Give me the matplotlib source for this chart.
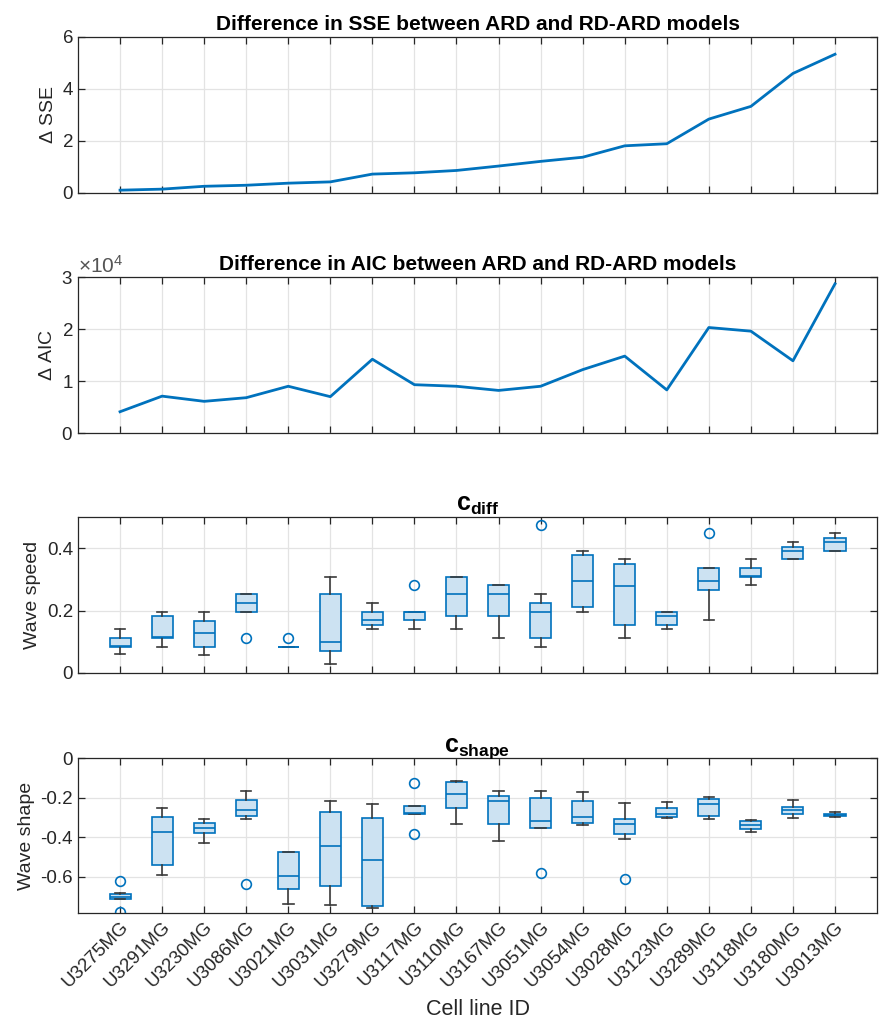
import matplotlib
matplotlib.use("Agg")
import matplotlib.pyplot as plt
import numpy as np
from matplotlib.ticker import ScalarFormatter

plt.rcParams['font.family'] = ['Liberation Sans', 'DejaVu Sans']
plt.rcParams['mathtext.fontset'] = 'custom'
plt.rcParams['mathtext.rm'] = 'Liberation Sans'
plt.rcParams['mathtext.bf'] = 'Liberation Sans:bold'

# cell lines (sorted by delta SSE)
cell_lines = ['U3275MG', 'U3291MG', 'U3230MG', 'U3086MG', 'U3021MG', 'U3031MG',
              'U3279MG', 'U3117MG', 'U3110MG', 'U3167MG', 'U3051MG', 'U3054MG',
              'U3028MG', 'U3123MG', 'U3289MG', 'U3118MG', 'U3180MG', 'U3013MG']

delta_sse = [0.09, 0.13, 0.24, 0.28, 0.36, 0.41, 0.71, 0.76, 0.85, 1.02,
             1.20, 1.36, 1.80, 1.88, 2.83, 3.32, 4.59, 5.33]

delta_aic = [4100, 7100, 6100, 6800, 9000, 7000, 14200, 9300, 9000, 8200,
             9000, 12200, 14800, 8300, 20300, 19600, 13900, 28700]

# c_diff box stats
cdiff_whislo = [0.059, 0.084, 0.056, 0.197, 0.084, 0.028, 0.141, 0.141, 0.141,
                0.113, 0.084, 0.196, 0.113, 0.141, 0.169, 0.281, 0.365, 0.392]
cdiff_q1 = [0.084, 0.113, 0.084, 0.197, 0.084, 0.070, 0.154, 0.169, 0.182,
            0.182, 0.113, 0.210, 0.154, 0.154, 0.267, 0.309, 0.365, 0.392]
cdiff_med = [0.085, 0.114, 0.127, 0.225, 0.084, 0.098, 0.169, 0.196, 0.252,
             0.252, 0.197, 0.295, 0.280, 0.183, 0.295, 0.310, 0.392, 0.420]
cdiff_q3 = [0.111, 0.182, 0.168, 0.252, 0.084, 0.252, 0.197, 0.197, 0.309,
            0.281, 0.224, 0.378, 0.351, 0.197, 0.337, 0.337, 0.406, 0.434]
cdiff_whishi = [0.140, 0.197, 0.197, 0.252, 0.084, 0.309, 0.225, 0.197, 0.309,
                0.281, 0.252, 0.392, 0.365, 0.197, 0.337, 0.365, 0.420, 0.449]
cdiff_fliers = [[], [], [], [0.113], [0.113], [], [], [0.281], [],
                [], [0.477], [], [], [], [0.449], [], [], []]

# c_shape box stats
cshape_whislo = [-0.713, -0.589, -0.428, -0.310, -0.740, -0.742, -0.760, -0.280, -0.332,
                 -0.418, -0.354, -0.339, -0.411, -0.300, -0.305, -0.371, -0.302, -0.299]
cshape_q1 = [-0.713, -0.540, -0.376, -0.290, -0.664, -0.648, -0.747, -0.280, -0.253,
             -0.332, -0.354, -0.326, -0.383, -0.299, -0.292, -0.359, -0.280, -0.290]
cshape_med = [-0.701, -0.374, -0.354, -0.263, -0.597, -0.443, -0.517, -0.279, -0.180,
              -0.218, -0.320, -0.297, -0.334, -0.284, -0.232, -0.339, -0.262, -0.285]
cshape_q3 = [-0.688, -0.297, -0.329, -0.213, -0.475, -0.273, -0.302, -0.242, -0.121,
             -0.191, -0.203, -0.218, -0.310, -0.250, -0.208, -0.319, -0.247, -0.280]
cshape_whishi = [-0.683, -0.253, -0.310, -0.168, -0.475, -0.218, -0.232, -0.242, -0.117,
                 -0.166, -0.168, -0.171, -0.228, -0.220, -0.195, -0.315, -0.213, -0.273]
cshape_fliers = [[-0.621, -0.780], [], [], [-0.636], [], [], [], [-0.126, -0.383], [],
                 [], [-0.581], [], [-0.613], [], [], [], [], []]

blue = '#0072BD'
face = '#CCE2F2'
dark = '#262626'

fig = plt.figure(figsize=(8.82, 10.24), dpi=100)
left, width = 0.0884, 0.906
ax1 = fig.add_axes([left, 0.812, width, 0.152])
ax2 = fig.add_axes([left, 0.5771, width, 0.1523])
ax3 = fig.add_axes([left, 0.3431, width, 0.1516])
ax4 = fig.add_axes([left, 0.1081, width, 0.1514])

x = np.arange(1, len(cell_lines) + 1)


def style(ax):
    ax.set_xlim(0, 19)
    ax.set_xticks(x)
    ax.grid(True, color='#e3e3e3', linewidth=0.9)
    ax.set_axisbelow(True)
    ax.tick_params(direction='in', top=True, right=True, length=5,
                   width=0.9, colors=dark, labelsize=13.5)
    for s in ax.spines.values():
        s.set_color(dark)
        s.set_linewidth(0.9)


ax1.plot(x, delta_sse, color=blue, linewidth=2)
style(ax1)
ax1.set_ylim(0, 6)
ax1.set_yticks([0, 2, 4, 6])
ax1.set_xticklabels([])
ax1.set_ylabel('$\\Delta$ SSE', fontsize=14, color=dark)
ax1.set_title('Difference in SSE between ARD and RD-ARD models',
              fontsize=15, fontweight='bold', pad=5)

ax2.plot(x, delta_aic, color=blue, linewidth=2)
style(ax2)
ax2.set_ylim(0, 30000)
ax2.set_yticks([0, 10000, 20000, 30000])
fmt = ScalarFormatter(useMathText=True)
fmt.set_powerlimits((0, 0))
ax2.yaxis.set_major_formatter(fmt)
ax2.yaxis.get_offset_text().set_fontsize(15)
ax2.yaxis.get_offset_text().set_color('#555555')
ax2.set_xticklabels([])
ax2.set_ylabel('$\\Delta$ AIC', fontsize=14, color=dark)
ax2.set_title('Difference in AIC between ARD and RD-ARD models',
              fontsize=15, fontweight='bold', pad=5)


def boxes(ax, lo, q1, med, q3, hi, fl):
    stats = []
    for i in range(len(cell_lines)):
        stats.append(dict(whislo=lo[i], q1=q1[i], med=med[i], q3=q3[i],
                          whishi=hi[i], fliers=fl[i]))
    ax.bxp(stats, positions=x, widths=0.5, patch_artist=True,
           boxprops=dict(facecolor=face, edgecolor=blue, linewidth=1.2),
           medianprops=dict(color=blue, linewidth=1.2),
           whiskerprops=dict(color='#3a3a3a', linewidth=1.2),
           capprops=dict(color='#3a3a3a', linewidth=1.2),
           flierprops=dict(marker='o', markerfacecolor='none',
                           markeredgecolor=blue, markersize=7, markeredgewidth=1.2))


boxes(ax3, cdiff_whislo, cdiff_q1, cdiff_med, cdiff_q3, cdiff_whishi, cdiff_fliers)
style(ax3)
ax3.set_ylim(0, 0.5)
ax3.set_yticks([0, 0.2, 0.4])
ax3.set_yticklabels(['0', '0.2', '0.4'])
ax3.set_xticklabels([])
ax3.set_ylabel('Wave speed', fontsize=14, color=dark)
ax3.set_title(r'$\mathbf{c_{diff}}$', fontsize=18, pad=5)

boxes(ax4, cshape_whislo, cshape_q1, cshape_med, cshape_q3, cshape_whishi, cshape_fliers)
style(ax4)
ax4.set_ylim(-0.785, 0)
ax4.set_yticks([-0.6, -0.4, -0.2, 0])
ax4.set_yticklabels(['-0.6', '-0.4', '-0.2', '0'])
ax4.set_xticklabels(cell_lines, rotation=45, ha='right', rotation_mode='anchor')
ax4.set_ylabel('Wave shape', fontsize=14, color=dark)
ax4.set_xlabel('Cell line ID', fontsize=15.5, color=dark, labelpad=6)
ax4.set_title(r'$\mathbf{c_{shape}}$', fontsize=18, pad=5)

fig.savefig('out.png', dpi=100)
